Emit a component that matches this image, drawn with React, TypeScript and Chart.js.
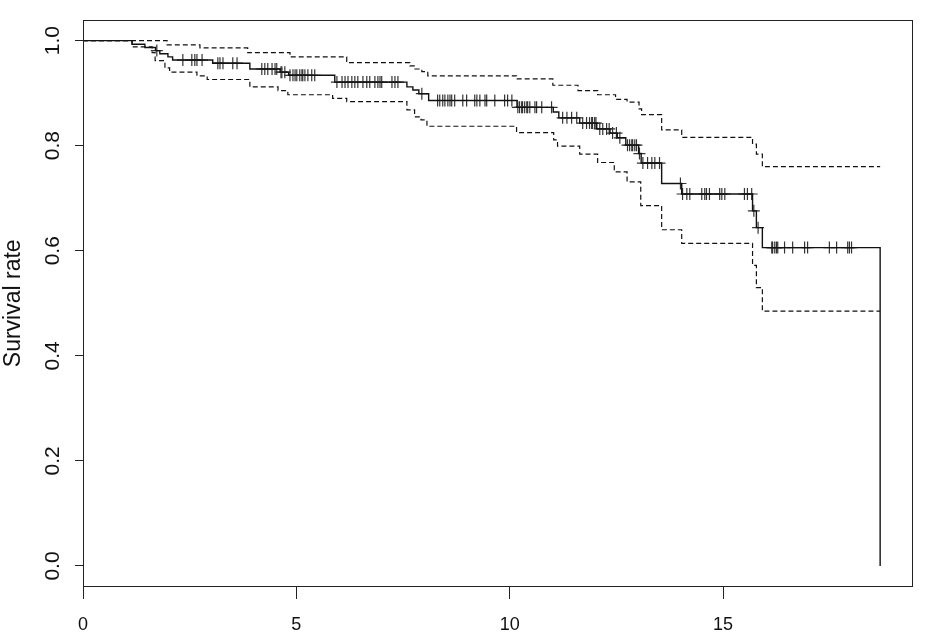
import React, { useEffect, useRef } from "react";
import { Chart, registerables } from "chart.js";

Chart.register(...registerables);

// ---- data ----
const xTickValues = [0, 5, 10, 15];
const yTickValues = [0, 0.2, 0.4, 0.6, 0.8, 1.0];
const yAxisLabel = "Survival rate";
const lastTime = 18.68;

// Kaplan-Meier estimate: value after each event time
const eventTimes = [1.15, 1.45, 1.7, 1.8, 1.99, 2.1, 3.04, 3.91, 4.62, 4.82, 5.9, 7.59, 7.73, 7.87, 8.1, 10.17, 11.02, 11.15, 11.64, 12.04, 12.35, 12.52, 12.72, 13.02, 13.08, 13.56, 14.03, 15.69, 15.78, 15.92, 18.68];
const survival = [0.993, 0.987, 0.981, 0.975, 0.969, 0.963, 0.957, 0.946, 0.94, 0.934, 0.921, 0.912, 0.906, 0.899, 0.886, 0.873, 0.864, 0.853, 0.843, 0.832, 0.824, 0.815, 0.801, 0.785, 0.767, 0.728, 0.708, 0.676, 0.644, 0.606, 0];

// upper confidence band
const upperTimes = [1.97, 2.74, 3.86, 4.85, 6.18, 7.66, 7.78, 7.94, 8.08, 10.16, 11.01, 11.6, 12.06, 12.48, 12.75, 13.03, 13.09, 13.56, 14.03, 15.69, 15.78, 15.92];
const upperValues = [0.992, 0.986, 0.977, 0.969, 0.958, 0.952, 0.946, 0.941, 0.933, 0.927, 0.915, 0.905, 0.897, 0.888, 0.883, 0.87, 0.859, 0.83, 0.816, 0.803, 0.784, 0.76];

// lower confidence band
const lowerTimes = [1.15, 1.62, 1.69, 1.92, 2.03, 2.67, 2.91, 3.91, 4.57, 4.8, 5.85, 6.18, 7.59, 7.77, 7.92, 8.06, 10.16, 11.03, 11.12, 11.64, 12.06, 12.45, 12.75, 13.07, 13.56, 14.03, 15.69, 15.78, 15.92];
const lowerValues = [0.988, 0.977, 0.962, 0.948, 0.94, 0.933, 0.926, 0.912, 0.905, 0.897, 0.89, 0.884, 0.868, 0.855, 0.849, 0.837, 0.825, 0.811, 0.799, 0.784, 0.768, 0.75, 0.731, 0.686, 0.64, 0.614, 0.572, 0.53, 0.485];

// censored observations
const censorTimes = [
  1.73, 2.34, 2.55, 2.62, 2.67, 2.79, 3.16, 3.21, 3.28, 3.51, 3.61,
  4.19, 4.26, 4.33, 4.43, 4.5, 4.54, 4.64, 4.66, 4.73, 4.85, 4.92, 4.97, 5.01, 5.08, 5.13, 5.15, 5.2, 5.27, 5.36, 5.43,
  5.95, 6.07, 6.14, 6.21, 6.3, 6.37, 6.44, 6.56, 6.65, 6.72, 6.84, 6.91, 6.96, 7.0, 7.24, 7.31, 7.38,
  7.94,
  8.31, 8.36, 8.43, 8.48, 8.55, 8.6, 8.64, 8.71, 8.9, 8.99, 9.18, 9.23, 9.3, 9.42, 9.46, 9.65, 9.88, 9.95, 10.05,
  10.19, 10.23, 10.28, 10.3, 10.35, 10.4, 10.42, 10.47, 10.59, 10.63, 10.75, 10.98,
  11.24, 11.34, 11.45, 11.57, 11.71, 11.8, 11.87, 11.92, 11.94, 11.99, 12.02,
  12.11, 12.18, 12.27, 12.33, 12.41, 12.5, 12.58,
  12.76, 12.81, 12.86, 12.88, 12.93, 12.97, 13.04,
  13.12, 13.23, 13.33, 13.4, 13.51,
  14.0, 14.05, 14.15, 14.22, 14.5, 14.57, 14.61, 14.68, 14.92, 14.97, 15.04, 15.5, 15.57, 15.67,
  15.72, 15.82,
  16.14, 16.16, 16.21, 16.25, 16.28, 16.44, 16.63, 16.91, 16.98, 17.49, 17.66, 17.92, 17.96, 18.01,
];

const X_MAX = 19.45;
const Y_MIN = -0.04;
const Y_MAX = 1.04;

function stepValue(times: number[], values: number[], t: number): number {
  let v = 1;
  for (let i = 0; i < times.length; i++) {
    if (times[i] <= t) v = values[i];
  }
  return v;
}

const FONT = "'Liberation Sans', Arial, Helvetica, sans-serif";
const INK = "#111";

const boxPlugin = {
  id: "rbox",
  afterDraw(chart: any) {
    const { ctx, chartArea } = chart;
    ctx.save();
    ctx.strokeStyle = "#222";
    ctx.lineWidth = 1;
    ctx.strokeRect(
      Math.round(chartArea.left) + 0.5,
      Math.round(chartArea.top) + 0.5,
      Math.round(chartArea.right - chartArea.left) - 1,
      Math.round(chartArea.bottom - chartArea.top) - 1
    );
    ctx.restore();
  },
};

export default function App() {
  const ref = useRef<HTMLCanvasElement | null>(null);

  useEffect(() => {
    document.body.style.margin = "0";
    const canvas = ref.current;
    if (!canvas) return;

    const mainData = [{ x: 0, y: 1 }, ...eventTimes.map((t, i) => ({ x: t, y: survival[i] }))];
    const upperData = [
      { x: 0, y: 1 },
      ...upperTimes.map((t, i) => ({ x: t, y: upperValues[i] })),
      { x: lastTime, y: upperValues[upperValues.length - 1] },
    ];
    const lowerData = [
      { x: 0, y: 1 },
      ...lowerTimes.map((t, i) => ({ x: t, y: lowerValues[i] })),
      { x: lastTime, y: lowerValues[lowerValues.length - 1] },
    ];
    const censorData = censorTimes.map((t) => ({ x: t, y: stepValue(eventTimes, survival, t) }));

    const chart = new Chart(canvas, {
      type: "line",
      data: {
        datasets: [
          {
            label: "survival",
            data: mainData,
            stepped: "before",
            borderColor: INK,
            borderWidth: 1.4,
            pointRadius: 0,
            fill: false,
          },
          {
            label: "upper",
            data: upperData,
            stepped: "before",
            borderColor: INK,
            borderWidth: 1.2,
            borderDash: [5, 3],
            pointRadius: 0,
            fill: false,
          },
          {
            label: "lower",
            data: lowerData,
            stepped: "before",
            borderColor: INK,
            borderWidth: 1.2,
            borderDash: [5, 3],
            pointRadius: 0,
            fill: false,
          },
          {
            label: "censored",
            data: censorData,
            showLine: false,
            pointStyle: "cross",
            pointRadius: 6,
            pointBorderWidth: 1.2,
            pointBorderColor: "#333",
            pointBackgroundColor: "#333",
            pointHoverRadius: 6,
          },
        ],
      },
      options: {
        responsive: false,
        animation: false,
        events: [],
        layout: { padding: { top: 10, right: 25, left: 0, bottom: 0 } },
        plugins: {
          legend: { display: false },
          tooltip: { enabled: false },
        },
        scales: {
          x: {
            type: "linear",
            min: 0,
            max: X_MAX,
            afterBuildTicks: (scale: any) => {
              scale.ticks = xTickValues.map((v) => ({ value: v }));
            },
            afterFit: (scale: any) => {
              scale.height = 54;
            },
            border: { display: false },
            grid: {
              drawOnChartArea: false,
              drawTicks: true,
              tickLength: 12,
              tickColor: "#222",
              lineWidth: 1,
            },
            ticks: {
              color: INK,
              font: { family: FONT, size: 18 },
              padding: 15,
              maxRotation: 0,
              minRotation: 0,
              callback: (v: any) => String(v),
            },
          },
          y: {
            type: "linear",
            min: Y_MIN,
            max: Y_MAX,
            afterBuildTicks: (scale: any) => {
              scale.ticks = yTickValues.map((v) => ({ value: v }));
            },
            afterFit: (scale: any) => {
              scale.width = 83;
            },
            border: { display: false },
            grid: {
              drawOnChartArea: false,
              drawTicks: true,
              tickLength: 8,
              tickColor: "#222",
              lineWidth: 1,
            },
            ticks: {
              color: INK,
              font: { family: FONT, size: 21 },
              padding: 7,
              minRotation: 90,
              maxRotation: 90,
              crossAlign: "center",
              callback: (v: any) => Number(v).toFixed(1),
            },
            title: {
              display: true,
              text: yAxisLabel,
              color: INK,
              font: { family: FONT, size: 23 },
              padding: { top: 0, bottom: 0 },
            },
          },
        },
      },
      plugins: [boxPlugin],
    });

    return () => chart.destroy();
  }, []);

  return (
    <div style={{ position: "fixed", left: 0, top: 0, width: 938, height: 641, background: "#fff" }}>
      <canvas ref={ref} width={938} height={641} style={{ display: "block" }} />
    </div>
  );
}
